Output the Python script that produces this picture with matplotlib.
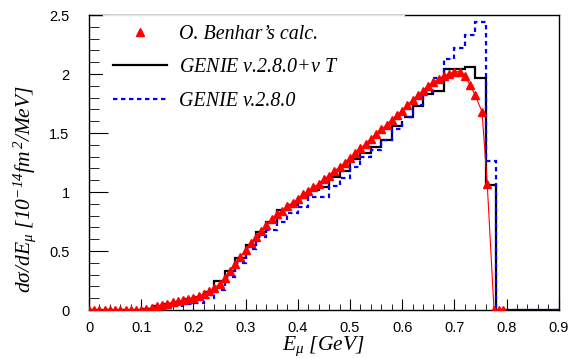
import numpy as np
import matplotlib.pyplot as plt
from matplotlib.ticker import MultipleLocator

plt.rcParams['mathtext.fontset'] = 'custom'
plt.rcParams['mathtext.rm'] = 'Liberation Serif:italic'
plt.rcParams['mathtext.it'] = 'Liberation Serif:italic'
plt.rcParams['mathtext.default'] = 'rm'

# histogram bin edges (GeV), 0.02 wide
bin_edges = np.round(np.arange(0.0, 0.9001, 0.02), 2)

# GENIE v.2.8.0 + nu T (black)
genie_nut = [0, 0, 0, 0, 0,
             0.01, 0.03, 0.05, 0.07, 0.09, 0.11, 0.15,
             0.25, 0.33, 0.44, 0.55, 0.66, 0.75, 0.85, 0.89, 0.95, 1.02,
             1.04, 1.13, 1.18, 1.28, 1.33, 1.38, 1.44, 1.56, 1.64, 1.73,
             1.83, 1.86, 2.04, 2.04, 2.06, 1.97, 1.06,
             0, 0, 0, 0, 0, 0]

# GENIE v.2.8.0 (blue dashed)
genie = [0, 0, 0, 0, 0,
         0.0, 0.01, 0.02, 0.03, 0.05, 0.06, 0.10,
         0.17, 0.28, 0.40, 0.52, 0.62, 0.68, 0.75, 0.82, 0.87, 0.96,
         0.96, 1.05, 1.12, 1.21, 1.30, 1.36, 1.44, 1.53, 1.64, 1.74,
         1.85, 1.97, 2.13, 2.22, 2.33, 2.44, 1.26,
         0, 0, 0, 0, 0, 0]

# O. Benhar's calculation (red triangles)
benhar_e = [0.00, 0.01, 0.02, 0.03, 0.04, 0.05, 0.06, 0.07, 0.08, 0.09,
            0.10, 0.11, 0.12, 0.13, 0.14, 0.15, 0.16, 0.17, 0.18, 0.19,
            0.20, 0.21, 0.22, 0.23, 0.24, 0.25, 0.26, 0.27, 0.28, 0.29,
            0.30, 0.31, 0.32, 0.33, 0.34, 0.35, 0.36, 0.37, 0.38, 0.39,
            0.40, 0.41, 0.42, 0.43, 0.44, 0.45, 0.46, 0.47, 0.48, 0.49,
            0.50, 0.51, 0.52, 0.53, 0.54, 0.55, 0.56, 0.57, 0.58, 0.59,
            0.60, 0.61, 0.62, 0.63, 0.64, 0.65, 0.66, 0.67, 0.68, 0.69,
            0.70, 0.71, 0.72, 0.73, 0.74, 0.753, 0.763, 0.776, 0.786, 0.793]
benhar_xs = [0, 0, 0, 0, 0, 0, 0, 0, 0, 0,
             0, 0.01, 0.02, 0.03, 0.045, 0.055, 0.065, 0.075, 0.085, 0.095,
             0.105, 0.12, 0.135, 0.16, 0.19, 0.22, 0.27, 0.33, 0.39, 0.45,
             0.51, 0.57, 0.62, 0.67, 0.72, 0.77, 0.81, 0.84, 0.88, 0.91,
             0.94, 0.98, 1.01, 1.04, 1.07, 1.11, 1.14, 1.18, 1.21, 1.25,
             1.29, 1.33, 1.37, 1.41, 1.45, 1.49, 1.53, 1.57, 1.61, 1.65,
             1.69, 1.74, 1.78, 1.82, 1.86, 1.90, 1.93, 1.96, 1.98, 2.00,
             2.02, 2.02, 1.98, 1.91, 1.82, 1.68, 1.07, 0, 0, 0]

fig = plt.figure(figsize=(5.82, 3.58), dpi=100)
ax = fig.add_axes([0.153, 0.134, 0.807, 0.824])

ax.plot(benhar_e, benhar_xs, color='red', lw=0.8, zorder=3.8)
ax.plot(benhar_e, benhar_xs, ls='none', marker='^', color='red', ms=6,
        zorder=4, label="O. Benhar’s calc.")
ax.stairs(genie_nut, bin_edges, color='black', lw=1.6, zorder=2,
          label=r'GENIE v.2.8.0+$\nu$ T')
ax.stairs(genie, bin_edges, color='blue', lw=1.6, ls=(0, (2, 1.6)), zorder=2,
          label='GENIE v.2.8.0')

ax.set_xlim(0, 0.9)
ax.set_ylim(0, 2.5)
ax.xaxis.set_major_locator(MultipleLocator(0.1))
ax.xaxis.set_minor_locator(MultipleLocator(0.02))
ax.yaxis.set_major_locator(MultipleLocator(0.5))
ax.yaxis.set_minor_locator(MultipleLocator(0.1))
ax.tick_params(which='both', direction='in', top=False, right=False,
               labelsize=10.5)
ax.tick_params(axis='x', which='major', length=8, pad=8)
ax.tick_params(axis='x', which='minor', length=4)
ax.tick_params(axis='y', which='major', length=14, pad=14)
ax.tick_params(axis='y', which='minor', length=7)
for lab in ax.get_xticklabels() + ax.get_yticklabels():
    lab.set_family('Liberation Sans')
ax.xaxis.set_major_formatter(lambda v, p: f'{v:g}')
ax.yaxis.set_major_formatter(lambda v, p: f'{v:g}')

ax.set_xlabel(r'E$_{\mathrm{\mu}}$ [GeV]', family='Liberation Serif',
              style='italic', fontsize=15.5)
ax.set_ylabel(r'd$\sigma$/dE$_{\mathrm{\mu}}$ [10$^{-14}$fm$^{\,2}$/MeV]',
              family='Liberation Serif', style='italic', fontsize=15.5)
ax.xaxis.set_label_coords(0.5, -0.082)
ax.yaxis.set_label_coords(-0.108, 0.41)

leg = ax.legend(loc='upper left', bbox_to_anchor=(0.03, 1.0, 0.64, 0),
                mode='expand', borderaxespad=0, frameon=True, fancybox=False,
                facecolor='white', edgecolor='none', framealpha=1,
                prop={'family': 'Liberation Serif', 'style': 'italic', 'size': 14.4},
                handlelength=2.7, handletextpad=0.6, labelspacing=0.72,
                borderpad=0.5)
leg.get_frame().set_linewidth(0)
# above the frame spine, below the Benhar points
leg.set_zorder(3.5)
# light grey top edge of the legend box
ax.plot([0.03, 0.67], [1.0, 1.0], transform=ax.transAxes, color='#e4e4e4',
        lw=1.0, clip_on=False, zorder=11)

for s in ax.spines.values():
    s.set_linewidth(1.0)

fig.savefig('out.png', dpi=100)
